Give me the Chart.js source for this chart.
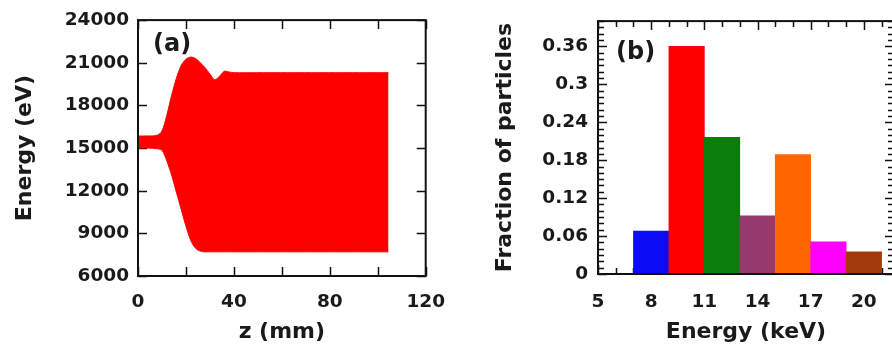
<!DOCTYPE html>
<html>
<head>
<meta charset="utf-8">
<script src="https://cdn.jsdelivr.net/npm/chart.js@4.4.1/dist/chart.umd.min.js"></script>
<style>
  html, body { margin: 0; padding: 0; background: #fff; overflow: hidden; width: 892px; height: 349px; }
  canvas { position: absolute; top: 0; }
  #energyChart { left: 0; }
  #fractionChart { left: 460px; }
</style>
</head>
<body>
<canvas id="energyChart" width="460" height="349"></canvas>
<canvas id="fractionChart" width="440" height="349"></canvas>
<script>
// (a) energy spread along the interaction length
const zPos   = [0, 4, 8, 10, 12, 14, 16, 18, 20, 22, 24, 26, 28, 30, 32, 34, 36, 38, 40, 50, 60, 70, 80, 90, 100, 104.5];
const upperE = [15850, 15850, 15900, 16200, 17300, 18700, 19900, 20800, 21250, 21400, 21300, 21000, 20650, 20200, 19800, 20050, 20400, 20350, 20300, 20300, 20300, 20300, 20300, 20300, 20300, 20300];
const lowerE = [15000, 15000, 14950, 14850, 14100, 13100, 11900, 10700, 9500, 8500, 7950, 7750, 7700, 7700, 7700, 7700, 7700, 7700, 7700, 7700, 7700, 7700, 7700, 7700, 7700, 7700];

// (b) energy histogram
const energyBins = [8, 10, 12, 14, 16, 18, 20];
const fractions  = [0.068, 0.36, 0.216, 0.092, 0.189, 0.051, 0.035];
const barColors  = ['#0b0bf5', '#ff0000', '#0a7d0a', '#963a6e', '#ff6600', '#ff00ff', '#a33a0c'];
const keVTicks   = [5, 8, 11, 14, 17, 20];

const FONT = "'DejaVu Sans', sans-serif";
const tickFont = { family: FONT, size: 18.5, weight: 'bold' };
const titleFont = { family: FONT, size: 22, weight: 'bold' };

// inward ticks on all four sides, box frame and panel tag
const frameTicks = {
  id: 'frameTicks',
  beforeDatasetsDraw(chart, args, opts) {
    const { ctx, chartArea: a, scales: { x, y } } = chart;
    ctx.save();
    ctx.strokeStyle = '#111';
    ctx.lineWidth = 1.5;
    ctx.beginPath();
    const xMark = (v, len) => {
      const px = Math.round(x.getPixelForValue(v)) + 0.5;
      ctx.moveTo(px, a.bottom); ctx.lineTo(px, a.bottom - len);
      ctx.moveTo(px, a.top); ctx.lineTo(px, a.top + len);
    };
    if (opts.xMinorStep) {
      for (let v = x.min; v <= x.max + 1e-9; v += opts.xMinorStep) xMark(v, opts.minor);
    }
    x.ticks.forEach(t => xMark(t.value, t.label !== '' ? opts.major : opts.minor));
    y.ticks.forEach(t => {
      const py = Math.round(y.getPixelForValue(t.value)) + 0.5;
      const len = t.label !== '' ? opts.major : opts.minor;
      ctx.moveTo(a.left, py); ctx.lineTo(a.left + len, py);
      ctx.moveTo(a.right, py); ctx.lineTo(a.right - len, py);
    });
    ctx.stroke();
    ctx.restore();
  },
  afterDraw(chart, args, opts) {
    const { ctx, chartArea: a } = chart;
    ctx.save();
    ctx.strokeStyle = '#111';
    ctx.lineWidth = 2;
    ctx.strokeRect(a.left, a.top, a.right - a.left, a.bottom - a.top);
    ctx.fillStyle = '#1a1a1a';
    ctx.font = 'bold 24px ' + FONT;
    ctx.textBaseline = 'middle';
    ctx.fillText(opts.tag, a.left + opts.tagX, a.top + opts.tagY);
    ctx.restore();
  }
};

new Chart(document.getElementById('energyChart'), {
  type: 'line',
  data: {
    datasets: [{
      label: 'upper',
      data: zPos.map((z, i) => ({ x: z, y: upperE[i] })),
      borderColor: '#ff0000',
      backgroundColor: '#ff0000',
      borderWidth: 1,
      pointRadius: 0,
      tension: 0.3,
      fill: '+1'
    }, {
      label: 'lower',
      data: zPos.map((z, i) => ({ x: z, y: lowerE[i] })),
      borderColor: '#ff0000',
      borderWidth: 1,
      pointRadius: 0,
      tension: 0.3,
      fill: false
    }]
  },
  options: {
    responsive: false,
    animation: false,
    layout: { padding: { left: 10, top: 19, right: 23, bottom: 0 } },
    plugins: {
      legend: { display: false },
      tooltip: { enabled: false },
      frameTicks: { major: 9, minor: 9, tag: '(a)', tagX: 15, tagY: 25 }
    },
    scales: {
      x: {
        type: 'linear',
        min: 0, max: 120,
        grid: { display: false, drawTicks: false },
        border: { display: false },
        afterFit: s => { s.height = 73; },
        ticks: {
          stepSize: 20, autoSkip: false, maxRotation: 0, padding: 15,
          color: '#1a1a1a', font: tickFont,
          callback: v => (v % 40 === 0 ? String(v) : '')
        },
        title: { display: true, text: 'z (mm)', color: '#1a1a1a', font: titleFont, padding: { top: 0, bottom: 4 } }
      },
      y: {
        min: 6000, max: 24000,
        grid: { display: false, drawTicks: false },
        border: { display: false },
        afterFit: s => { s.width = 128; },
        ticks: {
          stepSize: 3000, autoSkip: false, padding: 9,
          color: '#1a1a1a', font: tickFont,
          callback: v => String(v)
        },
        title: { display: true, text: 'Energy (eV)', color: '#1a1a1a', font: titleFont, padding: { top: 2, bottom: 0 } }
      }
    }
  },
  plugins: [frameTicks]
});

new Chart(document.getElementById('fractionChart'), {
  type: 'bar',
  data: {
    datasets: [{
      label: 'Fraction of particles',
      data: energyBins.map((e, i) => ({ x: e, y: fractions[i] })),
      backgroundColor: barColors,
      borderWidth: 0,
      barPercentage: 1,
      categoryPercentage: 1
    }]
  },
  options: {
    responsive: false,
    animation: false,
    layout: { padding: { left: 30, top: 19, right: 6, bottom: 0 } },
    plugins: {
      legend: { display: false },
      tooltip: { enabled: false },
      frameTicks: { major: 9, minor: 6, xMinorStep: 1, tag: '(b)', tagX: 18, tagY: 32 }
    },
    scales: {
      x: {
        type: 'linear',
        min: 5, max: 21.7,
        offset: false,
        grid: { display: false, drawTicks: false, offset: false },
        border: { display: false },
        afterFit: s => { s.height = 75; },
        afterBuildTicks: s => { s.ticks = keVTicks.map(v => ({ value: v })); },
        ticks: {
          autoSkip: false, maxRotation: 0, padding: 17,
          color: '#1a1a1a', font: tickFont,
          callback: v => String(v)
        },
        title: { display: true, text: 'Energy (keV)', color: '#1a1a1a', font: titleFont, padding: { top: 0, bottom: 4 } }
      },
      y: {
        min: 0, max: 0.40,
        grid: { display: false, drawTicks: false },
        border: { display: false },
        afterFit: s => { s.width = 108; },
        ticks: {
          stepSize: 0.01, maxTicksLimit: 1000, autoSkip: false, padding: 10,
          color: '#1a1a1a', font: tickFont,
          callback: v => (Math.round(v * 100) % 6 === 0 && v < 0.39 ? String(+v.toFixed(2)) : '')
        },
        title: { display: true, text: 'Fraction of particles', color: '#1a1a1a', font: titleFont, padding: { top: 2, bottom: 0 } }
      }
    }
  },
  plugins: [frameTicks]
});
</script>
</body>
</html>
